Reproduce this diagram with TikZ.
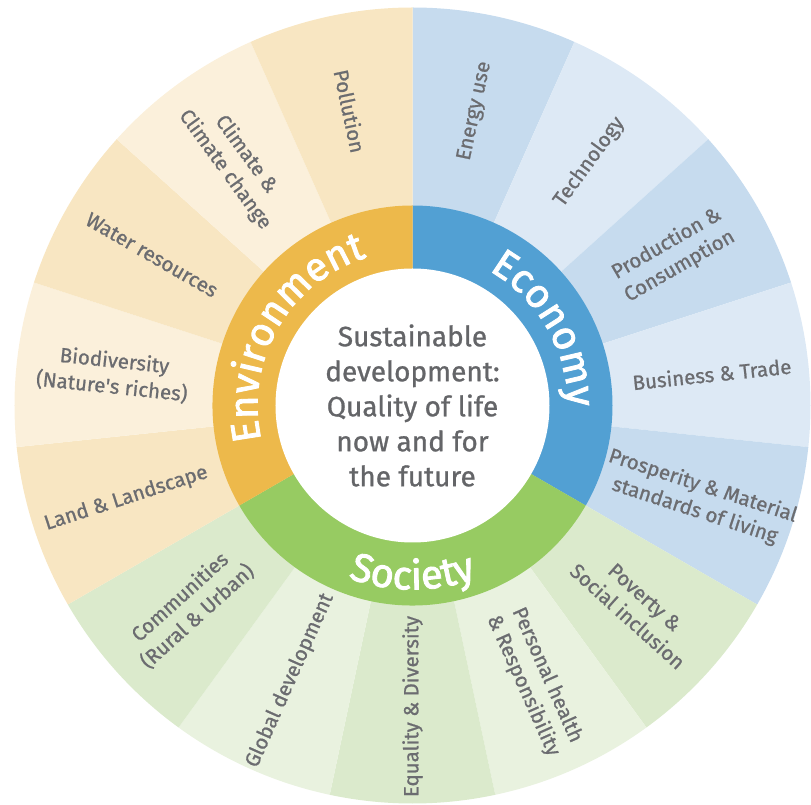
\documentclass[tikz,border=0pt]{standalone}
\usepackage{fontspec}
\setmainfont{Fira Sans}[FakeBold=0.9]
\newfontfamily\pillarface{Fira Sans}[FakeBold=2.2]
\usetikzlibrary{decorations.text}

% palette
\definecolor{envring}{HTML}{EDB94B}
\definecolor{econring}{HTML}{52A0D3}
\definecolor{socring}{HTML}{97CB62}
\definecolor{envdark}{HTML}{F8E6C2}
\definecolor{envlight}{HTML}{FBF0DB}
\definecolor{econdark}{HTML}{C6DBEE}
\definecolor{econlight}{HTML}{DDE9F5}
\definecolor{socdark}{HTML}{DBEACC}
\definecolor{soclight}{HTML}{E9F2DF}
\definecolor{labelgray}{HTML}{6B6C70}
\definecolor{coregray}{HTML}{646568}

\newcommand{\ringfont}{\pillarface\fontsize{40}{40}\selectfont}

\begin{document}
\begin{tikzpicture}[x=1pt,y=1pt,
  lbl/.style={text=labelgray, align=center, inner sep=0pt,
              font=\fontsize{20.5}{26}\selectfont},
  coretext/.style={text=coregray, align=center, inner sep=0pt,
              font=\fontsize{28}{35}\selectfont},
  ringtext/.style={decorate, decoration={text along path, text align=center,
              text color=white, text={|\ringfont|#1}}}]
\useasboundingbox (-412.5,-399.5) rectangle (398.5,405.5);

% outer wheel: fifteen 24-degree sectors, alternating shades per theme
\foreach \a/\c in {90/econdark, 66/econlight, 42/econdark, 18/econlight, -6/econdark,
                   -30/socdark, -54/soclight, -78/socdark, -102/soclight, -126/socdark,
                   -150/envdark, -174/envlight, -198/envdark, -222/envlight, -246/envdark}
  \fill[\c] (0,0) -- (\a:398) arc[start angle=\a, end angle=\a-24, radius=398] -- cycle;

% inner ring of the three pillars
\fill[econring] (0,0) -- (90:200) arc[start angle=90, end angle=-30, radius=200] -- cycle;
\fill[socring] (0,0) -- (-30:200) arc[start angle=-30, end angle=-150, radius=200] -- cycle;
\fill[envring] (0,0) -- (-150:200) arc[start angle=-150, end angle=-270, radius=200] -- cycle;
\fill[white] (0,0) circle[radius=137];

% pillar names set along the ring
\path[ringtext=Environment] (240:155) arc[start angle=240, end angle=60, radius=155];
\path[ringtext=Economy] (120:155) arc[start angle=120, end angle=-60, radius=155];
\path[ringtext=Society] (200:184) arc[start angle=200, end angle=340, radius=184];

% centre statement
\node[coretext] (core) at (0,0)
  {Sustainable\\development:\\Quality of life\\now and for\\the future};

% sector labels, Environment
\node[lbl, rotate=-78] (pollution) at (102:301) {Pollution};
\node[lbl, rotate=-54] (climate) at (126:301) {Climate \&\\Climate change};
\node[lbl, rotate=-30] (water) at (150:301) {Water resources};
\node[lbl, rotate=-6] (biodiversity) at (174:301) {Biodiversity\\(Nature\textquotesingle s riches)};
\node[lbl, rotate=18] (land) at (198:301) {Land \& Landscape};

% sector labels, Society
\node[lbl, rotate=42] (communities) at (222:301) {Communities\\(Rural \& Urban)};
\node[lbl, rotate=66] (global) at (246:301) {Global development};
\node[lbl, rotate=90] (equality) at (270:301) {Equality \& Diversity};
\node[lbl, rotate=-66] (health) at (-66:301) {Personal health\\\& Responsibility};
\node[lbl, rotate=-42] (poverty) at (-42:301) {Poverty \&\\Social inclusion};

% sector labels, Economy
\node[lbl, rotate=-18] (prosperity) at (-18:301) {Prosperity \& Material\\standards of living};
\node[lbl, rotate=6] (business) at (6:301) {Business \& Trade};
\node[lbl, rotate=30] (production) at (30:301) {Production \&\\Consumption};
\node[lbl, rotate=54] (technology) at (54:301) {Technology};
\node[lbl, rotate=78] (energy) at (78:301) {Energy use};
\end{tikzpicture}
\end{document}
